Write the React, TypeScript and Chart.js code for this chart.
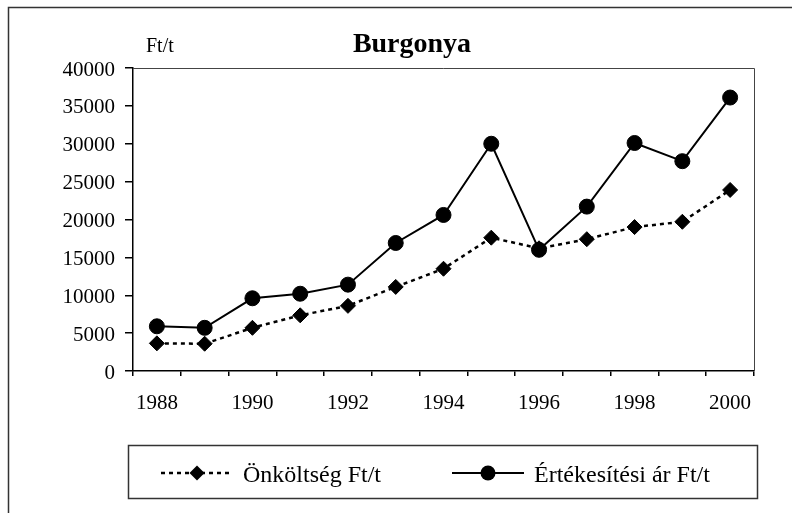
import React, { useEffect, useRef } from 'react';
import { Chart, registerables } from 'chart.js';

Chart.register(...registerables);

const years = ['1988', '1989', '1990', '1991', '1992', '1993', '1994', '1995', '1996', '1997', '1998', '1999', '2000'];
const onkoltseg = [3650, 3600, 5700, 7350, 8600, 11100, 13500, 17600, 16200, 17400, 19000, 19700, 23900];
const ertekesitesi = [5900, 5700, 9600, 10200, 11400, 16900, 20600, 30000, 16000, 21700, 30100, 27700, 36100];
const seriesLabels = ['Önköltség Ft/t', 'Értékesítési ár Ft/t'];
const titleText = 'Burgonya';
const unitText = 'Ft/t';
const yMin = 0;
const yMax = 40000;
const yStep = 5000;

const FONT = "'Liberation Serif', 'Times New Roman', serif";

const decorPlugin = {
  id: 'decor',
  beforeDraw(chart: any) {
    const ctx = chart.ctx;
    ctx.save();
    ctx.fillStyle = '#fff';
    ctx.fillRect(0, 0, chart.width, chart.height);
    ctx.strokeStyle = '#333';
    ctx.lineWidth = 1.5;
    ctx.beginPath();
    ctx.moveTo(8.5, chart.height);
    ctx.lineTo(8.5, 7.5);
    ctx.lineTo(chart.width, 7.5);
    ctx.stroke();
    ctx.restore();
  },
  afterDraw(chart: any) {
    const ctx = chart.ctx;
    const a = chart.chartArea;
    ctx.save();
    ctx.strokeStyle = '#444';
    ctx.lineWidth = 1;
    ctx.beginPath();
    ctx.moveTo(a.left, a.top + 0.5);
    ctx.lineTo(a.right + 0.5, a.top + 0.5);
    ctx.lineTo(a.right + 0.5, a.bottom);
    ctx.stroke();

    ctx.fillStyle = '#000';
    ctx.textBaseline = 'alphabetic';
    ctx.textAlign = 'center';
    ctx.font = `bold 28px ${FONT}`;
    ctx.fillText(titleText, a.left + 279, 52);
    ctx.textAlign = 'left';
    ctx.font = `20px ${FONT}`;
    ctx.fillText(unitText, a.left + 13, 52);

    const bx = a.left - 5;
    const by = 445;
    const bw = 629;
    const bh = 53;
    ctx.strokeStyle = '#333';
    ctx.lineWidth = 1.5;
    ctx.strokeRect(bx + 0.5, by + 0.5, bw, bh);

    const ly = by + 28;
    const items = [
      { ds: chart.data.datasets[0], x: bx + 33 },
      { ds: chart.data.datasets[1], x: bx + 324 },
    ];
    items.forEach(({ ds, x }) => {
      const len = 72;
      ctx.strokeStyle = ds.borderColor;
      ctx.lineWidth = ds.borderWidth;
      ctx.setLineDash(ds.borderDash || []);
      ctx.beginPath();
      ctx.moveTo(x, ly);
      ctx.lineTo(x + len, ly);
      ctx.stroke();
      ctx.setLineDash([]);
      const cx = x + len / 2;
      ctx.fillStyle = '#000';
      ctx.beginPath();
      if (ds.pointStyle === 'rectRot') {
        const r = ds.pointRadius;
        ctx.moveTo(cx, ly - r);
        ctx.lineTo(cx + r, ly);
        ctx.lineTo(cx, ly + r);
        ctx.lineTo(cx - r, ly);
        ctx.closePath();
      } else {
        ctx.arc(cx, ly, ds.pointRadius, 0, Math.PI * 2);
      }
      ctx.fill();
      ctx.font = `24px ${FONT}`;
      ctx.textAlign = 'left';
      ctx.textBaseline = 'alphabetic';
      ctx.fillText(ds.label, x + len + 10, by + 37);
    });
    ctx.restore();
  },
};

export default function App() {
  const ref = useRef<HTMLCanvasElement>(null);

  useEffect(() => {
    if (!ref.current) return;
    const chart = new Chart(ref.current, {
      type: 'line',
      data: {
        labels: years,
        datasets: [
          {
            label: seriesLabels[0],
            data: onkoltseg,
            borderColor: '#000',
            backgroundColor: '#000',
            borderWidth: 2.5,
            borderDash: [4, 4],
            pointStyle: 'rectRot',
            pointRadius: 7.5,
            pointHoverRadius: 7.5,
            pointBackgroundColor: '#000',
            pointBorderColor: '#000',
            pointBorderWidth: 1,
            tension: 0,
            order: 1,
          },
          {
            label: seriesLabels[1],
            data: ertekesitesi,
            borderColor: '#000',
            backgroundColor: '#000',
            borderWidth: 2,
            pointStyle: 'circle',
            pointRadius: 7.5,
            pointHoverRadius: 7.5,
            pointBackgroundColor: '#000',
            pointBorderColor: '#000',
            pointBorderWidth: 1,
            tension: 0,
            order: 0,
          },
        ] as any,
      },
      options: {
        animation: false,
        responsive: false,
        devicePixelRatio: 1,
        layout: { padding: { left: 0, top: 68, right: 38, bottom: 0 } },
        plugins: {
          legend: { display: false },
          title: { display: false },
          tooltip: { enabled: false },
        },
        scales: {
          x: {
            type: 'category',
            offset: true,
            border: { color: '#000', width: 1.5 },
            grid: {
              offset: true,
              drawOnChartArea: false,
              drawTicks: true,
              tickLength: 5,
              color: '#000',
              lineWidth: 1.5,
            },
            ticks: {
              autoSkip: false,
              maxRotation: 0,
              padding: 15,
              color: '#000',
              font: { family: FONT, size: 21 },
              callback: (_v: any, i: number) => (i % 2 === 0 ? years[i] : ''),
            },
            afterFit: (s: any) => {
              s.height = 142;
            },
          },
          y: {
            min: yMin,
            max: yMax,
            border: { color: '#000', width: 1.5 },
            grid: {
              drawOnChartArea: false,
              drawTicks: true,
              tickLength: 8,
              color: '#000',
              lineWidth: 1.5,
            },
            ticks: {
              stepSize: yStep,
              padding: 10,
              labelOffset: 2,
              color: '#000',
              font: { family: FONT, size: 21 },
              callback: (v: any) => String(v),
            },
            afterFit: (s: any) => {
              s.width = 133;
            },
          },
        },
      },
      plugins: [decorPlugin],
    });
    return () => chart.destroy();
  }, []);

  return (
    <div style={{ position: 'absolute', left: 0, top: 0, width: 792, height: 513, overflow: 'hidden' }}>
      <canvas ref={ref} width={792} height={513} style={{ display: 'block', width: 792, height: 513 }} />
    </div>
  );
}
